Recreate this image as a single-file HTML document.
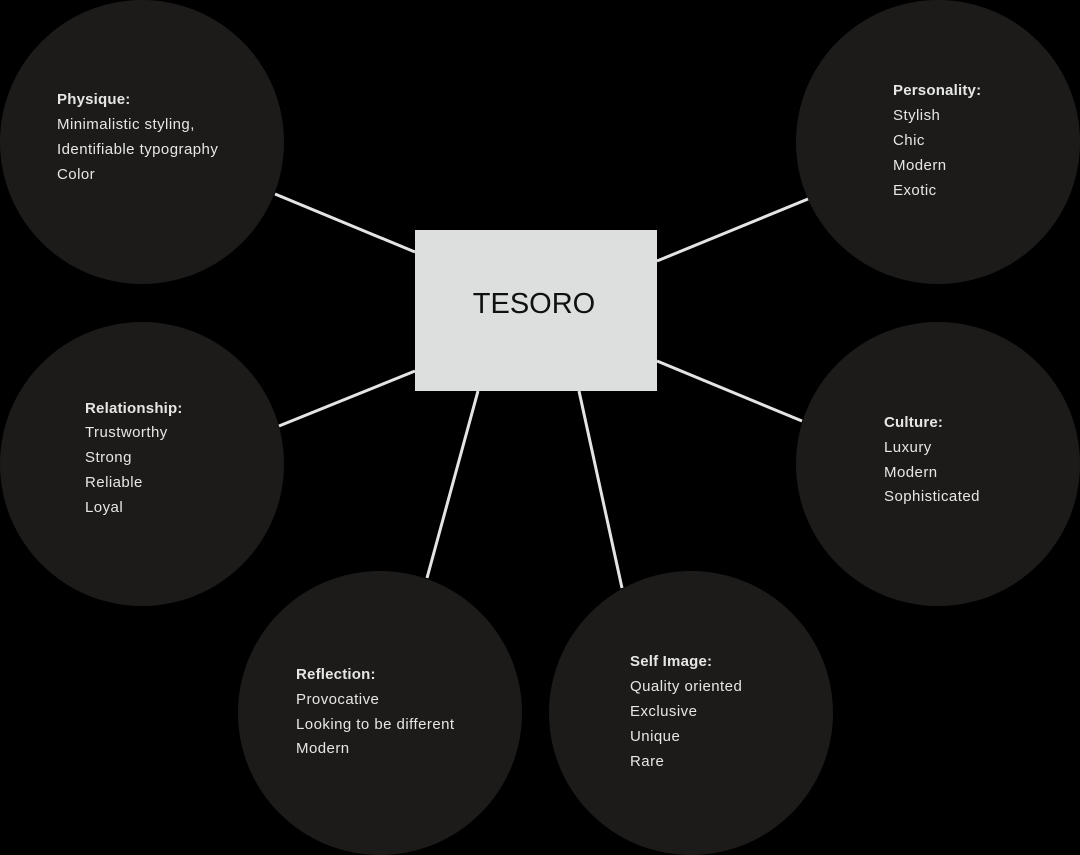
<!DOCTYPE html>
<html><head><style>
html,body{margin:0;padding:0;background:#000;}
svg{display:block}
text{font-family:"Liberation Sans",sans-serif;font-size:15px;fill:#e6e6e4;letter-spacing:0.45px;}
.b{font-weight:bold;letter-spacing:0.2px;}
</style></head><body>
<svg width="1080" height="855" viewBox="0 0 1080 855">
<rect width="1080" height="855" fill="#000"/>
<g fill="#1c1b1a">
<circle cx="142" cy="142" r="142"/>
<circle cx="938" cy="142" r="142"/>
<circle cx="142" cy="464" r="142"/>
<circle cx="938" cy="464" r="142"/>
<circle cx="380" cy="713" r="142"/>
<circle cx="691" cy="713" r="142"/>
</g>
<g stroke="#e4e4e4" stroke-width="3">
<line x1="275" y1="194" x2="415" y2="252"/>
<line x1="657" y1="261" x2="808" y2="199"/>
<line x1="279" y1="426" x2="415" y2="371"/>
<line x1="657" y1="361" x2="802" y2="421"/>
<line x1="478" y1="391" x2="427" y2="578"/>
<line x1="579" y1="391" x2="622" y2="588"/>
</g>
<rect x="415" y="230" width="242" height="161" fill="#dcdfde"/>
<text x="534" y="313" text-anchor="middle" style="font-size:29px;fill:#111;letter-spacing:0">TESORO</text>
<text x="57" y="104" class="b">Physique:</text>
<text x="57" y="129">Minimalistic styling,</text>
<text x="57" y="154">Identifiable typography</text>
<text x="57" y="179">Color</text>
<text x="893" y="95" class="b">Personality:</text>
<text x="893" y="120">Stylish</text>
<text x="893" y="145">Chic</text>
<text x="893" y="170">Modern</text>
<text x="893" y="195">Exotic</text>
<text x="85" y="413" class="b">Relationship:</text>
<text x="85" y="437">Trustworthy</text>
<text x="85" y="462">Strong</text>
<text x="85" y="487">Reliable</text>
<text x="85" y="512">Loyal</text>
<text x="884" y="427" class="b">Culture:</text>
<text x="884" y="452">Luxury</text>
<text x="884" y="477">Modern</text>
<text x="884" y="501">Sophisticated</text>
<text x="296" y="679" class="b">Reflection:</text>
<text x="296" y="704">Provocative</text>
<text x="296" y="729">Looking to be different</text>
<text x="296" y="753">Modern</text>
<text x="630" y="666" class="b">Self Image:</text>
<text x="630" y="691">Quality oriented</text>
<text x="630" y="716">Exclusive</text>
<text x="630" y="741">Unique</text>
<text x="630" y="766">Rare</text>
</svg>
</body></html>
